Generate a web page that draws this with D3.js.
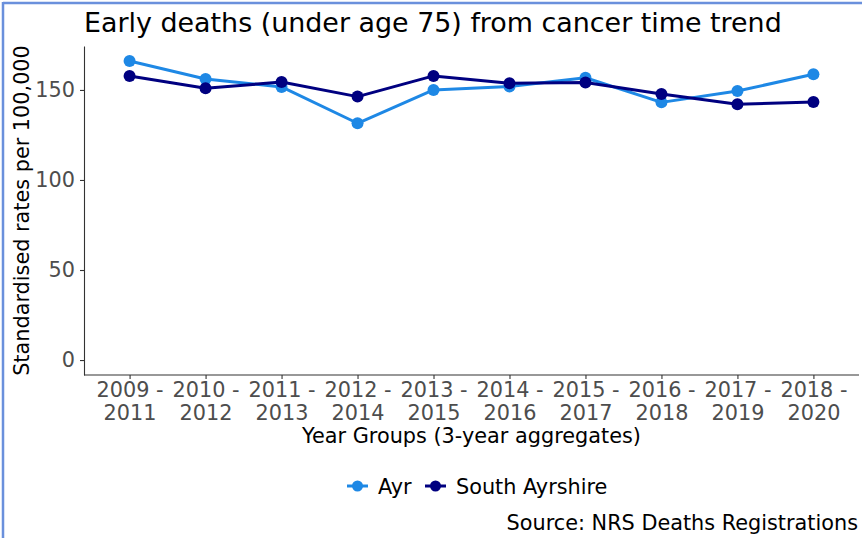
<!DOCTYPE html>
<html>
<head>
<meta charset="utf-8">
<script src="https://cdn.jsdelivr.net/npm/d3@7"></script>
<style>
  body { margin: 0; background: #fff; }
  svg { display: block; font-family: "DejaVu Sans", sans-serif; }
</style>
</head>
<body>
<svg id="chart" width="862" height="538"></svg>
<script>
// data
var yearGroups = ["2009 - 2011", "2010 - 2012", "2011 - 2013", "2012 - 2014", "2013 - 2015",
                  "2014 - 2016", "2015 - 2017", "2016 - 2018", "2017 - 2019", "2018 - 2020"];
var ayrValues = [166.1, 156.1, 151.7, 131.5, 150.0, 151.9, 156.8, 143.1, 149.4, 158.7];
var southAyrshireValues = [157.8, 150.9, 154.4, 146.3, 157.8, 153.7, 154.1, 147.8, 142.0, 143.3];
var seriesNames = ["Ayr", "South Ayrshire"];
var yTicks = [0, 50, 100, 150];

var colors = {
    "Ayr": "#1E88E5",
    "South Ayrshire": "#000080"
};

var series = [
    { "name": seriesNames[0], "values": ayrValues },
    { "name": seriesNames[1], "values": southAyrshireValues }
];

var fontSize = "20.8px";

var svg = d3.select("#chart");

var panel = { left: 84, right: 859, top: 46, bottom: 375 };

// frame lines (top and left only, as in the reference)
svg.append("line")
    .attr("x1", 3).attr("x2", 862).attr("y1", 3).attr("y2", 3)
    .style("stroke", "#6a90dc").style("stroke-width", 2.5);
svg.append("line")
    .attr("x1", 3).attr("x2", 3).attr("y1", 2).attr("y2", 538)
    .style("stroke", "#6a90dc").style("stroke-width", 2.5);

var x = d3.scalePoint()
    .domain(yearGroups)
    .range([panel.left, panel.right])
    .padding(0.6);

// ggplot-style 5% expansion around 0..max
var yMax = d3.max(ayrValues.concat(southAyrshireValues));
var y = d3.scaleLinear()
    .domain([-0.05 * yMax, 1.05 * yMax])
    .range([panel.bottom, panel.top]);

// y axis
var yAxis = svg.append("g")
    .attr("transform", "translate(" + panel.left + ",0)")
    .call(d3.axisLeft(y).tickValues(yTicks).tickSize(4).tickPadding(5).tickSizeOuter(0));
yAxis.select(".domain").style("stroke", "#333").style("stroke-width", 1.1);
yAxis.selectAll(".tick line").style("stroke", "#333").style("stroke-width", 1.1);
yAxis.selectAll("text")
    .style("font-size", fontSize)
    .style("fill", "#4d4d4d")
    .attr("font-family", "DejaVu Sans");

// x axis
var xAxis = svg.append("g")
    .attr("transform", "translate(0," + panel.bottom + ")")
    .call(d3.axisBottom(x).tickSize(4).tickPadding(3).tickSizeOuter(0));
xAxis.select(".domain").style("stroke", "#333").style("stroke-width", 1.1)
    .attr("d", "M" + panel.left + ",0H" + panel.right);
xAxis.selectAll(".tick line").style("stroke", "#333").style("stroke-width", 1.1);
xAxis.selectAll(".tick text")
    .style("font-size", fontSize)
    .style("fill", "#4d4d4d")
    .attr("font-family", "DejaVu Sans")
    .text(null)
    .each(function (d) {
        var parts = d.split(" - ");
        var t = d3.select(this);
        t.append("tspan").attr("x", 0).attr("dy", "0.71em").text(parts[0] + " -");
        t.append("tspan").attr("x", 0).attr("dy", "1.14em").text(parts[1]);
    })
    .attr("dy", null);

// lines and points
var line = d3.line()
    .x((d, i) => x(yearGroups[i]))
    .y((d) => y(d));

var g = svg.selectAll(".series")
    .data(series)
    .enter()
    .append("g")
    .attr("class", "series");

g.append("path")
    .attr("d", (d) => line(d.values))
    .style("fill", "none")
    .style("stroke", (d) => colors[d.name])
    .style("stroke-width", 3)
    .style("stroke-linejoin", "round");

g.selectAll("circle")
    .data((d) => d.values.map((v, i) => ({ "name": d.name, "v": v, "i": i })))
    .enter()
    .append("circle")
    .attr("cx", (d) => x(yearGroups[d.i]))
    .attr("cy", (d) => y(d.v))
    .attr("r", 6)
    .style("fill", (d) => colors[d.name]);

// title
svg.append("text")
    .attr("x", 84)
    .attr("y", 32)
    .style("font-size", "26.9px")
    .style("fill", "#000")
    .text("Early deaths (under age 75) from cancer time trend");

// axis titles
svg.append("text")
    .attr("x", (panel.left + panel.right) / 2)
    .attr("y", 443)
    .attr("text-anchor", "middle")
    .style("font-size", fontSize)
    .text("Year Groups (3-year aggregates)");

svg.append("text")
    .attr("transform", "translate(29," + (panel.top + panel.bottom) / 2 + ") rotate(-90)")
    .attr("text-anchor", "middle")
    .style("font-size", fontSize)
    .text("Standardised rates per 100,000");

// legend
var legendX = [347, 425];
var legend = svg.selectAll(".legend")
    .data(seriesNames)
    .enter()
    .append("g")
    .attr("class", "legend")
    .attr("transform", (d, i) => "translate(" + legendX[i] + ",486)");
legend.append("line")
    .attr("x1", 0).attr("x2", 21)
    .style("stroke", (d) => colors[d])
    .style("stroke-width", 3);
legend.append("circle")
    .attr("cx", 10.5)
    .attr("r", 5.5)
    .style("fill", (d) => colors[d]);
legend.append("text")
    .attr("x", 31)
    .attr("dy", "0.36em")
    .style("font-size", fontSize)
    .text((d) => d);

// caption
svg.append("text")
    .attr("x", 858)
    .attr("y", 530)
    .attr("text-anchor", "end")
    .style("font-size", fontSize)
    .text("Source: NRS Deaths Registrations");
</script>
</body>
</html>
